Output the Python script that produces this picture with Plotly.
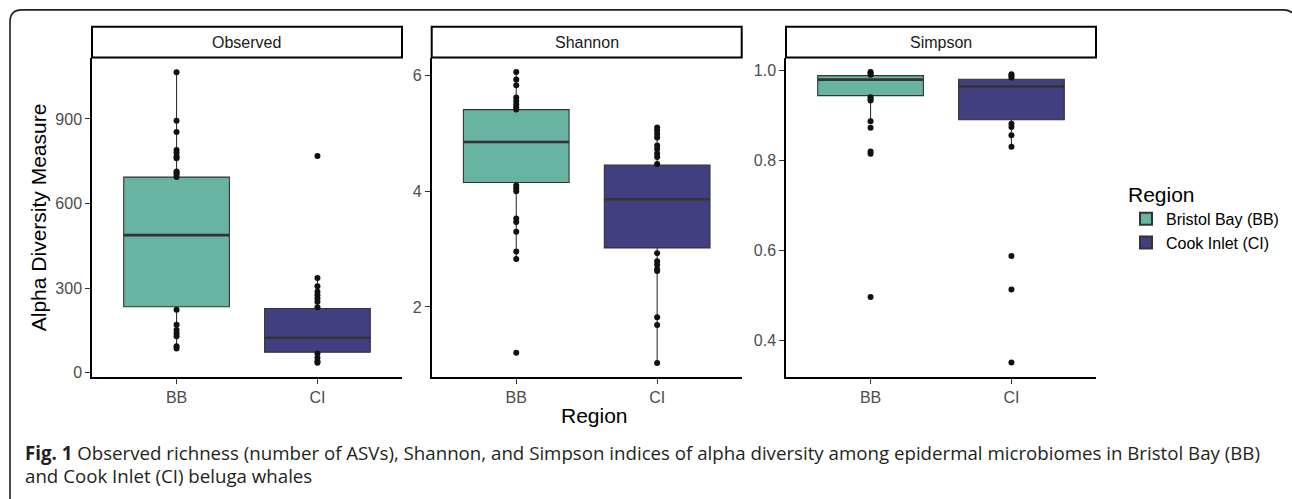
import plotly.graph_objects as go

# ---------------- data ----------------
regions = ["BB", "CI"]
region_names = ["Bristol Bay (BB)", "Cook Inlet (CI)"]
region_colors = ["#69b3a2", "#404080"]
metrics = ["Observed", "Shannon", "Simpson"]

# box statistics per metric: [BB, CI]
obs_q1 = [234, 73]
obs_median = [488, 124]
obs_q3 = [694, 228]
obs_low = [86, 35]
obs_high = [1066, 336]
obs_bb_points = [1066, 894, 854, 790, 779, 767, 761, 714, 709, 703, 694,
                 223, 170, 152, 140, 129, 94, 86]
obs_ci_points = [769, 336, 307, 287, 275, 263, 252, 232, 68, 53, 41, 35]

sha_q1 = [4.15, 3.02]
sha_median = [4.85, 3.86]
sha_q3 = [5.41, 4.45]
sha_low = [2.83, 1.03]
sha_high = [6.06, 5.10]
sha_bb_points = [6.06, 5.93, 5.83, 5.62, 5.56, 5.50, 5.45, 5.41,
                 4.10, 4.05, 4.00, 3.53, 3.47, 3.30, 2.96, 2.83, 1.21]
sha_ci_points = [5.10, 5.05, 4.99, 4.93, 4.79, 4.73, 4.65, 4.59, 4.47,
                 2.93, 2.79, 2.73, 2.65, 2.62, 1.82, 1.69, 1.03]

sim_q1 = [0.9435, 0.890]
sim_median = [0.979, 0.964]
sim_q3 = [0.988, 0.980]
sim_low = [0.887, 0.830]
sim_high = [0.996, 0.991]
sim_bb_points = [0.996, 0.993, 0.990, 0.940, 0.936, 0.933, 0.887, 0.8725,
                 0.820, 0.815, 0.497]
sim_ci_points = [0.991, 0.9875, 0.984, 0.881, 0.874, 0.856, 0.830,
                 0.588, 0.514, 0.352]

obs_ticks = [0, 300, 600, 900]
sha_ticks = [2, 4, 6]
sim_ticks = [0.4, 0.6, 0.8, 1.0]

caption_bold = "Fig. 1"
caption_line1 = ("Observed richness (number of ASVs), Shannon, and Simpson indices of "
                 "alpha diversity among epidermal microbiomes in Bristol Bay (BB)")
caption_line2 = "and Cook Inlet (CI) beluga whales"

# ---------------- layout constants ----------------
W, H = 1292, 499
FONT = "Liberation Sans, Arial, sans-serif"
CAP_FONT = "Open Sans, sans-serif"
panel_px = [(92, 402), (431.7, 741.7), (786, 1096)]
plot_top, plot_bot = 58, 380
strip_top = 27


def px(x):
    return x / W


def py(y):
    return 1 - y / H


panels = [
    dict(q1=obs_q1, med=obs_median, q3=obs_q3, lo=obs_low, hi=obs_high,
         pts=[obs_bb_points, obs_ci_points], ticks=obs_ticks, rng=[-15, 1118], fmt=""),
    dict(q1=sha_q1, med=sha_median, q3=sha_q3, lo=sha_low, hi=sha_high,
         pts=[sha_bb_points, sha_ci_points], ticks=sha_ticks, rng=[0.79, 6.31], fmt=""),
    dict(q1=sim_q1, med=sim_median, q3=sim_q3, lo=sim_low, hi=sim_high,
         pts=[sim_bb_points, sim_ci_points], ticks=sim_ticks, rng=[0.32, 1.028], fmt=".1f"),
]

fig = go.Figure()
shapes = []
annotations = []

for i, p in enumerate(panels):
    sfx = "" if i == 0 else str(i + 1)
    xa, ya = "x" + sfx, "y" + sfx
    for j, r in enumerate(regions):
        fig.add_trace(go.Box(
            x=[r], q1=[p["q1"][j]], median=[p["med"][j]], q3=[p["q3"][j]],
            lowerfence=[p["lo"][j]], upperfence=[p["hi"][j]],
            fillcolor=region_colors[j], line=dict(color="#333333", width=1.1),
            width=0.75, whiskerwidth=0, name=region_names[j], legendgroup=r,
            showlegend=(i == 0), boxpoints=False, xaxis=xa, yaxis=ya,
            hoverinfo="skip"))
    for j, r in enumerate(regions):
        # thicker median line (ggplot fatten)
        fig.add_trace(go.Box(
            x=[r], q1=[p["med"][j]], median=[p["med"][j]], q3=[p["med"][j]],
            lowerfence=[p["med"][j]], upperfence=[p["med"][j]],
            fillcolor="rgba(0,0,0,0)", line=dict(color="#333333", width=2.6),
            width=0.75, whiskerwidth=0, showlegend=False, boxpoints=False,
            xaxis=xa, yaxis=ya, hoverinfo="skip"))
    for j, r in enumerate(regions):
        fig.add_trace(go.Scatter(
            x=[r] * len(p["pts"][j]), y=p["pts"][j], mode="markers",
            marker=dict(color="#111111", size=6), showlegend=False,
            xaxis=xa, yaxis=ya, hoverinfo="skip"))

    x0, x1 = panel_px[i]
    fig.layout["xaxis" + sfx] = dict(
        domain=[px(x0), px(x1)], anchor=ya, type="category",
        categoryorder="array", categoryarray=regions, range=[-0.6, 1.6],
        showline=True, linecolor="black", linewidth=1.5, ticks="outside",
        ticklen=5, tickcolor="#333333", tickwidth=1, showgrid=False,
        zeroline=False, tickfont=dict(family=FONT, size=16, color="#4d4d4d"))
    fig.layout["yaxis" + sfx] = dict(
        domain=[py(plot_bot), py(plot_top)], anchor=xa, range=p["rng"],
        tickvals=p["ticks"], tickformat=p["fmt"],
        showline=True, linecolor="black", linewidth=1.5, ticks="outside",
        ticklen=5, tickcolor="#333333", tickwidth=1, showgrid=False,
        zeroline=False, tickfont=dict(family=FONT, size=16, color="#4d4d4d"))

    shapes.append(dict(type="rect", xref="paper", yref="paper",
                       x0=px(x0), x1=px(x1), y0=py(plot_top), y1=py(strip_top),
                       line=dict(color="black", width=2), fillcolor="white"))
    annotations.append(dict(text=metrics[i], xref="paper", yref="paper",
                            x=px((x0 + x1) / 2), y=py((strip_top + plot_top) / 2),
                            xanchor="center", yanchor="middle", showarrow=False,
                            font=dict(family=FONT, size=16, color="#1a1a1a")))

# outer rounded frame
frame = (f"M {px(10)} {py(510)} L {px(10)} {py(22)} "
         f"Q {px(10)} {py(10)} {px(22)} {py(10)} "
         f"L {px(1284)} {py(10)} Q {px(1290)} {py(10)} {px(1296)} {py(16)}")
shapes.append(dict(type="path", xref="paper", yref="paper", path=frame,
                   line=dict(color="#231f20", width=1.6)))

annotations.append(dict(text="Alpha Diversity Measure", xref="paper", yref="paper",
                        x=px(38), y=py(219), textangle=-90, showarrow=False,
                        xanchor="center", yanchor="middle",
                        font=dict(family=FONT, size=21, color="black")))
annotations.append(dict(text="Region", xref="paper", yref="paper",
                        x=px(594), y=py(419), showarrow=False,
                        xanchor="center", yanchor="middle",
                        font=dict(family=FONT, size=21, color="black")))
annotations.append(dict(text=f"<b>{caption_bold}</b> {caption_line1}", xref="paper",
                        yref="paper", x=px(23), y=py(456), showarrow=False,
                        xanchor="left", yanchor="middle",
                        font=dict(family=CAP_FONT, size=18.7, color="#231f20")))
annotations.append(dict(text=caption_line2, xref="paper", yref="paper",
                        x=px(23), y=py(479), showarrow=False,
                        xanchor="left", yanchor="middle",
                        font=dict(family=CAP_FONT, size=18.7, color="#231f20")))

fig.update_layout(
    width=W, height=H, margin=dict(l=0, r=0, t=0, b=0),
    paper_bgcolor="white", plot_bgcolor="white", boxmode="overlay",
    shapes=shapes, annotations=annotations,
    legend=dict(x=px(1126), y=py(176), xanchor="left", yanchor="top",
                title=dict(text="Region", font=dict(family=FONT, size=21, color="black")),
                font=dict(family=FONT, size=16, color="black"),
                bgcolor="rgba(0,0,0,0)", tracegroupgap=0, itemsizing="constant"),
    font=dict(family=FONT),
)

fig.write_html("out.html")
